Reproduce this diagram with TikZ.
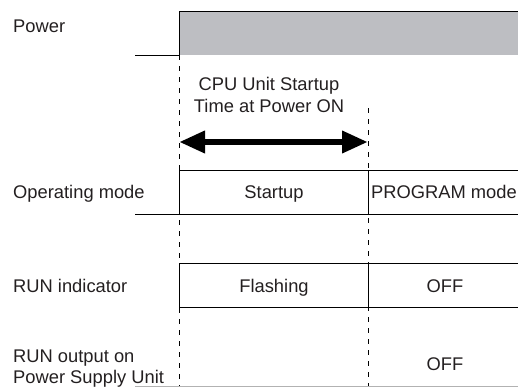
\documentclass[tikz,border=0pt]{standalone}
\usepackage{fontspec}
\setmainfont{Liberation Sans}
\usetikzlibrary{arrows.meta}
\definecolor{powergray}{RGB}{189,190,194}
\definecolor{ink}{RGB}{35,31,32}
\tikzset{
  lbl/.style={anchor=base west, inner sep=0pt, text=ink},
  val/.style={anchor=base, inner sep=0pt, text=ink},
  sig/.style={line width=1pt},
  guide/.style={dash pattern=on 5bp off 6bp, line width=0.8pt},
  span/.style={line width=6.5bp, {Triangle[length=26bp,width=21bp]}-{Triangle[length=26bp,width=21bp]}},
}
\begin{document}
\begin{tikzpicture}[x=1bp,y=1bp,font=\fontsize{18.4}{22}\selectfont]
    \useasboundingbox (0,0) rectangle (518,387);
    \coordinate (on) at (179,332);
    \coordinate (ready) at (368,279);
    \coordinate (on end) at (179,0);
    \coordinate (ready end) at (368,0);

    % power
    \fill[powergray] (on) rectangle (518,376);
    \draw[sig] (135,332) -- (on) -- (179,376) -- (518,376);
    \node[lbl] (power) at (13,355) {Power};

    % startup time
    \draw[guide] (on) -- (on end);
    \draw[guide] (ready) -- (ready end);
    \node[val] (cpu1) at (269,297) {CPU Unit Startup};
    \node[val] (cpu2) at (269,275) {Time at Power ON};
    \coordinate (span l) at (179,245);
    \coordinate (span r) at (368,245);
    \draw[span] (span l) -- (span r);

    % operating mode
    \draw[sig] (179,217) -- (518,217);
    \draw[sig] (135,173) -- (518,173);
    \draw[sig] (179,173) -- (179,217);
    \draw[sig] (368,173) -- (368,217);
    \node[lbl] (mode) at (13,189) {Operating mode};
    \node[val] (startup) at (274,189) {Startup};
    \node[val] (program) at (444,189) {PROGRAM mode};

    % RUN indicator
    \draw[sig] (179,124) -- (518,124);
    \draw[sig] (179,80) -- (518,80);
    \draw[sig] (179,80) -- (179,124);
    \draw[sig] (368,80) -- (368,124);
    \node[lbl] (runind) at (13,95) {RUN indicator};
    \node[val] (flash) at (274,95) {Flashing};
    \node[val] (off1) at (445,95) {OFF};

    % RUN output
    \node[lbl] (runout1) at (13,25) {RUN output on};
    \node[lbl] (runout2) at (13,4) {Power Supply Unit};
    \node[val] (off2) at (445,17) {OFF};
    \draw[line width=0.6pt, gray!60] (135,1) -- (518,1);
\end{tikzpicture}
\end{document}
